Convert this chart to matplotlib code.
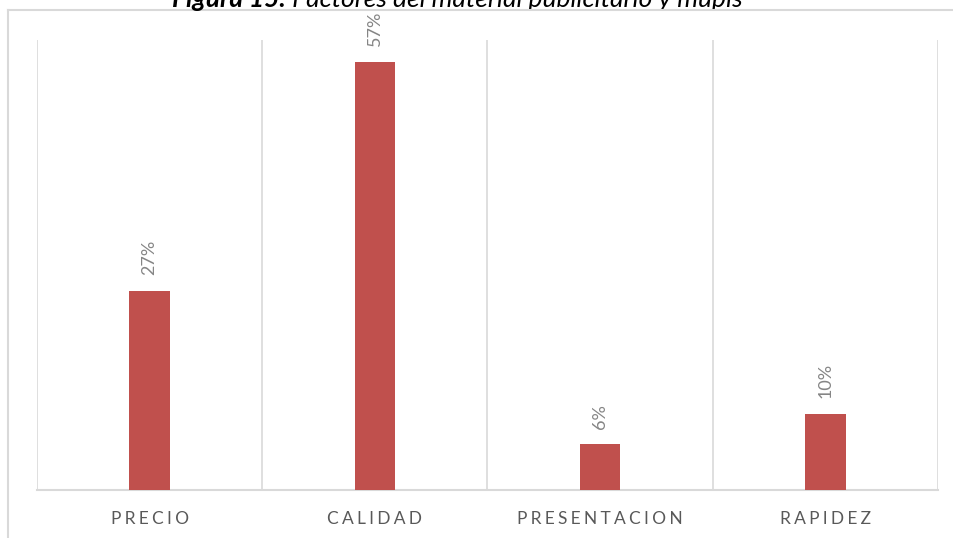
import matplotlib
matplotlib.use("Agg")
import matplotlib.pyplot as plt
from matplotlib.lines import Line2D

plt.rcParams['font.family'] = ['Lato', 'DejaVu Sans']

# Datos
categorias = ['PRECIO', 'CALIDAD', 'PRESENTACION', 'RAPIDEZ']
porcentajes = [26.6, 57.1, 6.1, 10.2]
etiquetas = ['27%', '57%', '6%', '10%']

color_barra = '#C0504D'
gris_linea = '#D9D9D9'

fig = plt.figure(figsize=(9.54, 5.38), dpi=100)
W, H = 954, 538

# Marco exterior
fig.add_artist(Line2D([8 / W, 8 / W], [0, 1 - 10 / H], color=gris_linea, lw=1.5))
fig.add_artist(Line2D([8 / W, 1], [1 - 10 / H, 1 - 10 / H], color=gris_linea, lw=1.5))

ax = fig.add_axes([37 / W, 1 - 490 / H, (938 - 37) / W, 450 / H])

# Titulo (cortado arriba, como en la imagen)
t1 = fig.text(172 / W, 1 - 7 / H, 'Figura 15.', fontsize=19, fontweight='bold',
              fontstyle='italic', ha='left', va='baseline', color='black')
ax.annotate(' Factores del material publicitario y mupis', xy=(1, 0), xycoords=t1,
            fontsize=19, fontstyle='italic', ha='left', va='bottom',
            color='black', annotation_clip=False)

x = range(len(categorias))
ax.bar(x, porcentajes, width=0.18, color=color_barra, zorder=3)

for i, (v, lab) in enumerate(zip(porcentajes, etiquetas)):
    ax.annotate(lab, xy=(i, v), xytext=(0, 11), textcoords='offset points',
                rotation=90, ha='center', va='bottom', fontsize=13, color='#858585')

ax.set_xlim(-0.5, 3.5)
ax.set_ylim(0, 60)
for b in [-0.5, 0.5, 1.5, 2.5, 3.5]:
    ax.axvline(b, color=gris_linea, lw=1.2, zorder=1)

ax.set_yticks([])
ax.set_xticks(list(x))
ax.set_xticklabels(['\u2009\u200a'.join(c) for c in categorias], fontsize=12.5, color='#595959')
ax.tick_params(axis='x', length=0, pad=15)
for s in ['left', 'right', 'top']:
    ax.spines[s].set_visible(False)
ax.spines['bottom'].set_color(gris_linea)
ax.spines['bottom'].set_linewidth(1.5)

fig.savefig('out.png', dpi=100)
